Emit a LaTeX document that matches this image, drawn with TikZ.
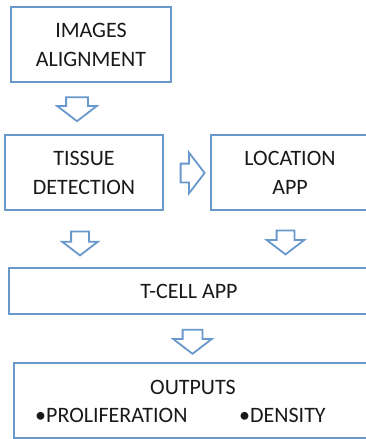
\documentclass[tikz,border=0pt]{standalone}
\usepackage{fontspec}
\setmainfont{Carlito}
\usetikzlibrary{positioning,calc,shapes.arrows}

\definecolor{boxblue}{RGB}{104,152,204}
\definecolor{boxtext}{RGB}{25,25,25}

\tikzset{
  stepbox/.style={draw=boxblue,line width=2.5pt,fill=white,align=center,
    text=boxtext,inner sep=0pt,font=\fontsize{22}{29}\selectfont},
  % #1 = half shaft width, #2 = how far the head sticks out
  blockarrow/.style 2 args={single arrow,draw=boxblue,fill=white,
    line width=1.8pt,inner xsep=0pt,inner ysep=#1,
    single arrow head extend=#2,minimum height=24pt,
    single arrow tip angle=105},
}

\begin{document}
\begin{tikzpicture}[x=1pt,y=-1pt]
  \useasboundingbox (0,0) rectangle (366,439);
  \fill[white] (0,0) rectangle (366,439);
  % processing steps
  \node[stepbox,minimum width=160pt,minimum height=75pt] (align)
    at (91,44.5) {IMAGES\\ALIGNMENT};
  \node[stepbox,minimum width=158pt,minimum height=75pt] (tissue)
    at (84,172.5) {TISSUE\\DETECTION};
  \node[stepbox,minimum width=158pt,minimum height=75pt] (location)
    at (290,172.5) {LOCATION\\APP};
  \node[stepbox,minimum width=360pt,minimum height=46pt] (tcell)
    at (189,291) {T-CELL APP};
  \node[stepbox,minimum width=358pt,minimum height=75pt] (outputs)
    at (193,400.5) {};
  \begin{scope}[every node/.style={text=boxtext,inner sep=0pt,anchor=base,
      font=\fontsize{22}{29}\selectfont}]
    \node (outputs-title) at (193,394) {OUTPUTS};
    \node[anchor=base west] (prolif) at (35,422) {\textbullet PROLIFERATION};
    \node[anchor=base west] (density) at (239,422) {\textbullet DENSITY};
  \end{scope}
  % block arrows between the steps
  \node[blockarrow={10pt}{9pt},rotate=-90] (align-tissue) at (77,105) {};
  \node[blockarrow={8.5pt}{11pt}] (tissue-location) at (189,173) {};
  \node[blockarrow={8pt}{9pt},rotate=-90] (tissue-tcell) at (80,240) {};
  \node[blockarrow={8pt}{10pt},rotate=-90] (location-tcell) at (285.5,239) {};
  \node[blockarrow={9pt}{9.5pt},rotate=-90] (tcell-outputs) at (192.5,338) {};
\end{tikzpicture}
\end{document}
